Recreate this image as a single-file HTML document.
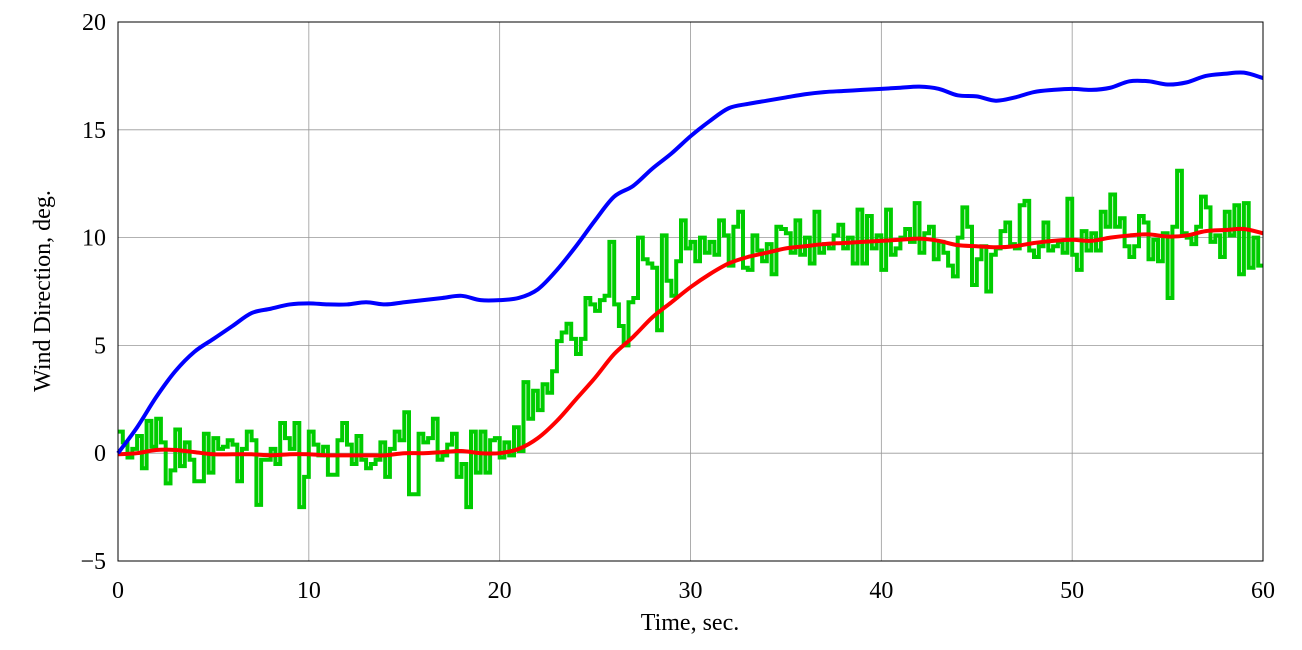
<!DOCTYPE html>
<html><head><meta charset="utf-8">
<style>
html,body{margin:0;padding:0;background:#fff;}
svg{display:block;font-family:"Liberation Serif",serif;}
</style></head>
<body>
<svg id="chart" width="1302" height="650" viewBox="0 0 1302 650" xmlns="http://www.w3.org/2000/svg">
  <g id="grid"></g>
  <g id="series"></g>
  <rect x="118" y="22" width="1145" height="539" fill="none" stroke="#000" stroke-width="1"/>
  <g id="ticks"></g>
  <text x="690" y="630" font-size="24" text-anchor="middle">Time, sec.</text>
  <text transform="translate(50,291) rotate(-90)" font-size="24" text-anchor="middle">Wind Direction, deg.</text>
</svg>
<script>
const xTicks = [0,10,20,30,40,50,60];
const yTicks = [-5,0,5,10,15,20];
const yTickLabels = ["\u22125","0","5","10","15","20"];
const blueT = [0,1,2,3,4,5,6,7,8,9,10,11,12,13,14,15,16,17,18,19,20,21,22,23,24,25,26,27,28,29,30,31,32,33,34,35,36,37,38,39,40,41,42,43,44,45,46,47,48,49,50,51,52,53,54,55,56,57,58,59,60];
const blueV = [0,1.2,2.6,3.8,4.7,5.3,5.9,6.5,6.7,6.9,6.95,6.9,6.9,7.0,6.9,7.0,7.1,7.2,7.3,7.1,7.1,7.2,7.6,8.5,9.6,10.8,11.9,12.4,13.2,13.9,14.7,15.4,16.0,16.2,16.35,16.5,16.65,16.75,16.8,16.85,16.9,16.95,17.0,16.9,16.6,16.55,16.35,16.5,16.75,16.85,16.9,16.85,16.95,17.25,17.25,17.1,17.2,17.5,17.6,17.65,17.4];
const redV = [-0.05,0,0.15,0.15,0.05,-0.05,-0.05,-0.05,-0.1,-0.05,-0.05,-0.1,-0.1,-0.1,-0.1,0,0,0.05,0.1,0,0,0.2,0.7,1.5,2.5,3.5,4.6,5.4,6.3,7.0,7.7,8.3,8.8,9.1,9.3,9.5,9.6,9.7,9.75,9.8,9.85,9.9,9.95,9.85,9.65,9.6,9.55,9.6,9.75,9.85,9.9,9.85,10.0,10.1,10.15,10.05,10.1,10.3,10.35,10.4,10.2];
const greenStep = 0.25;
const greenV = [
1.0,0.5,-0.2,0.2, 0.8,-0.7,1.5,0.3, 1.6,0.5,-1.4,-0.8, 1.1,-0.6,0.5,-0.3, -1.3,-1.3,0.9,-0.9,
0.7,0.2,0.3,0.6, 0.4,-1.3,0.2,1.0, 0.6,-2.4,-0.3,-0.3, 0.2,-0.5,1.4,0.7, 0.2,1.4,-2.5,-1.1,
1.0,0.4,-0.1,0.3, -1.0,-1.0,0.6,1.4, 0.4,-0.5,0.8,-0.3, -0.7,-0.5,-0.3,0.5, -1.1,0.2,1.0,0.6,
1.9,-1.9,-1.9,0.9, 0.5,0.7,1.6,-0.3, -0.1,0.4,0.9,-1.1, -0.5,-2.5,1.0,-0.9, 1.0,-0.9,0.6,0.7,
-0.2,0.5,-0.1,1.2, 0.1,3.3,1.6,2.9, 2.0,3.2,2.8,3.8, 5.2,5.6,6.0,5.3, 4.6,5.3,7.2,6.9,
6.6,7.1,7.3,9.8, 6.9,5.9,5.0,7.0, 7.2,10.0,9.0,8.8, 8.6,5.7,10.1,8.0, 7.3,8.9,10.8,9.5,
9.8,8.9,10.0,9.3, 9.8,9.2,10.8,10.1, 8.7,10.5,11.2,8.6, 8.5,10.1,9.4,8.9, 9.7,8.3,10.5,10.4,
10.2,9.3,10.8,9.2, 10.0,8.8,11.2,9.3, 9.7,9.5,10.1,10.6, 9.5,10.0,8.8,11.3, 8.8,11.0,9.5,10.1,
8.5,11.3,9.2,9.5, 10.0,10.4,9.8,11.6, 9.3,10.2,10.5,9.0, 9.8,9.3,8.7,8.2, 10.0,11.4,10.5,7.8,
9.0,9.6,7.5,9.2, 9.5,10.3,10.7,9.7, 9.5,11.5,11.7,9.4, 9.1,9.6,10.7,9.4, 9.6,9.8,9.3,11.8,
9.2,8.5,10.3,9.4, 10.2,9.4,11.2,10.5, 12.0,10.5,10.9,9.6, 9.1,9.6,11.0,10.7, 9.0,9.9,8.9,10.2,
7.2,10.5,13.1,10.2, 10.0,9.7,10.5,11.9, 11.4,9.8,10.1,9.1, 11.2,10.1,11.5,8.3, 11.6,8.6,10.0,8.7
];

const X0=118, X1=1263, Y0=561, Y1=22, TMIN=0, TMAX=60, VMIN=-5, VMAX=20;
const NS="http://www.w3.org/2000/svg";
function sx(t){return X0+(t-TMIN)/(TMAX-TMIN)*(X1-X0);}
function sy(v){return Y0-(v-VMIN)/(VMAX-VMIN)*(Y0-Y1);}
function mk(tag,attrs){const e=document.createElementNS(NS,tag);for(const k in attrs)e.setAttribute(k,attrs[k]);return e;}

const grid=document.getElementById('grid'), ticks=document.getElementById('ticks'), series=document.getElementById('series');
xTicks.forEach(t=>{
  const l=mk('line',{x1:sx(t),x2:sx(t),y1:Y1,y2:Y0,stroke:'#999','stroke-width':0.8});
  
  
  grid.appendChild(l);
  const tx=mk('text',{x:sx(t),y:Y0+37,'font-size':24,'text-anchor':'middle'});
  tx.textContent=String(t);
  
  
  ticks.appendChild(tx);
});
yTicks.forEach((v,i)=>{
  const l=mk('line',{x1:X0,x2:X1,y1:sy(v),y2:sy(v),stroke:'#999','stroke-width':0.8});
  
  
  grid.appendChild(l);
  const tx=mk('text',{x:X0-12,y:sy(v)+8,'font-size':24,'text-anchor':'end'});
  tx.textContent=yTickLabels[i];
  
  
  ticks.appendChild(tx);
});

let d='';
for(let i=0;i<greenV.length;i++){
  const t0=i*greenStep, t1=Math.min((i+1)*greenStep,TMAX);
  d+=(i===0?'M':'L')+sx(t0).toFixed(1)+','+sy(greenV[i]).toFixed(1)+'L'+sx(t1).toFixed(1)+','+sy(greenV[i]).toFixed(1);
}
const g=mk('path',{d:d,fill:'none',stroke:'#00cc00','stroke-width':4,'stroke-linejoin':'miter'});


series.appendChild(g);

function smoothPath(ts,vs){
  const p=ts.map((t,i)=>[sx(t),sy(vs[i])]);
  let s='M'+p[0][0]+','+p[0][1];
  for(let i=0;i<p.length-1;i++){
    const a=p[Math.max(i-1,0)],b=p[i],c=p[i+1],e=p[Math.min(i+2,p.length-1)];
    s+='C'+(b[0]+(c[0]-a[0])/6)+','+(b[1]+(c[1]-a[1])/6)+' '+(c[0]-(e[0]-b[0])/6)+','+(c[1]-(e[1]-b[1])/6)+' '+c[0]+','+c[1];
  }
  return s;
}
const r=mk('path',{d:smoothPath(blueT,redV),fill:'none',stroke:'#ff0000','stroke-width':4});


series.appendChild(r);
const b=mk('path',{d:smoothPath(blueT,blueV),fill:'none',stroke:'#0000ff','stroke-width':4});


series.appendChild(b);
</script>
</body></html>
